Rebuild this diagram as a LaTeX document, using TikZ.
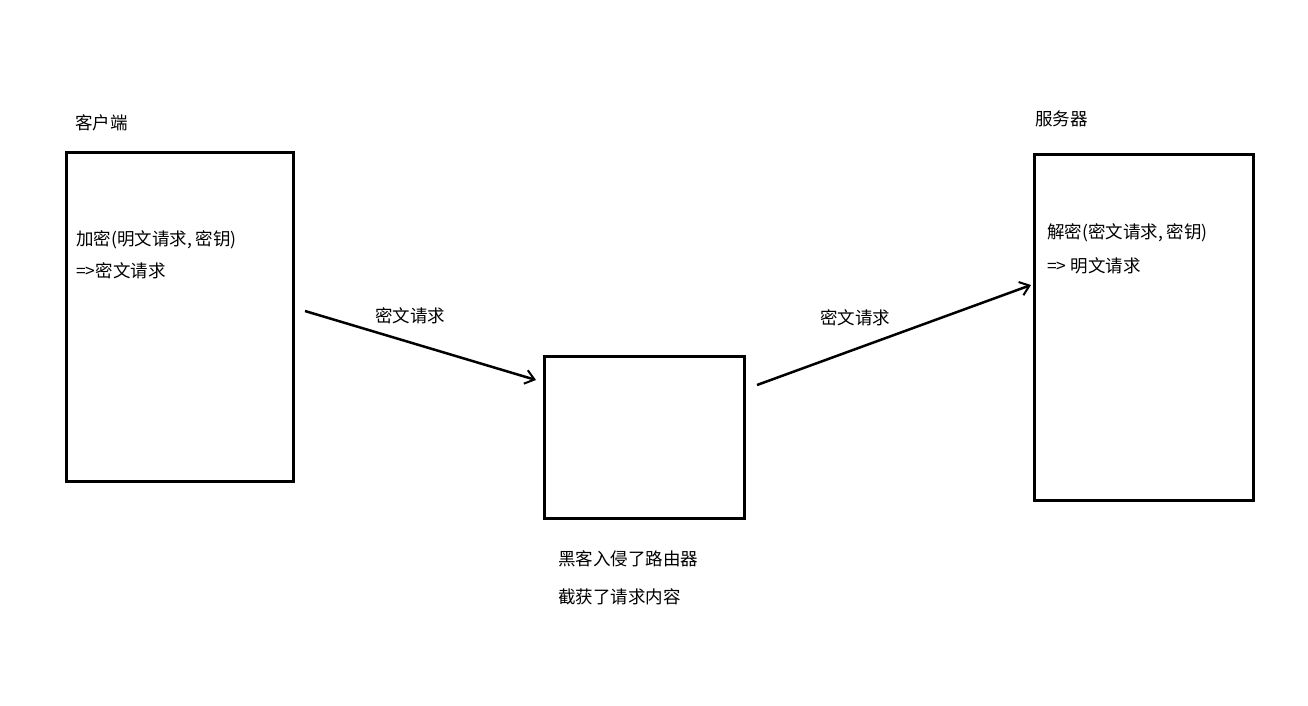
\documentclass[tikz,border=0pt]{standalone}
\usepackage{fontspec}
\newfontfamily\cjk{Noto Sans CJK SC}
\usetikzlibrary{arrows.meta}
\begin{document}
\begin{tikzpicture}[x=1pt,y=-1pt,
  boxx/.style={draw,line width=2.5pt,inner sep=0pt,anchor=north west},
  lbl/.style={font=\cjk\fontsize{17.5}{20}\selectfont,inner sep=0pt},
  arr/.style={line width=2.5pt,-{Straight Barb[length=9pt,width=14pt,line width=2pt]}}]
\useasboundingbox (0,0) rectangle (1308,705);
\node[boxx,minimum width=227pt,minimum height=329pt] (client) at (65,151) {};
\node[boxx,minimum width=200pt,minimum height=162pt] (router) at (543,355) {};
\node[boxx,minimum width=219pt,minimum height=346pt] (server) at (1033,153) {};
\node[lbl,anchor=west] (t1) at (75,123) {客户端};
\node[lbl,anchor=west] (t2) at (1035,119) {服务器};
\node[lbl,anchor=west] (t3) at (76,240) {加密(明文请求, 密钥)};
\node[lbl,anchor=west] (t4) at (76,271) {=>密文请求};
\node[lbl,anchor=west] (t5) at (1047,233) {解密(密文请求, 密钥)};
\node[lbl,anchor=west] (t6) at (1047,266) {=> 明文请求};
\node[lbl] (t7) at (410,316) {密文请求};
\node[lbl] (t8) at (855,318) {密文请求};
\node[lbl,anchor=west] (t9) at (558,559) {黑客入侵了路由器};
\node[lbl,anchor=west] (t10) at (558,597) {截获了请求内容};
\coordinate (a1) at (305,311);
\coordinate (a2) at (536,380);
\coordinate (b1) at (757,385);
\coordinate (b2) at (1031,285);
\draw[arr] (a1) -- (a2);
\draw[arr] (b1) -- (b2);
\end{tikzpicture}
\end{document}
